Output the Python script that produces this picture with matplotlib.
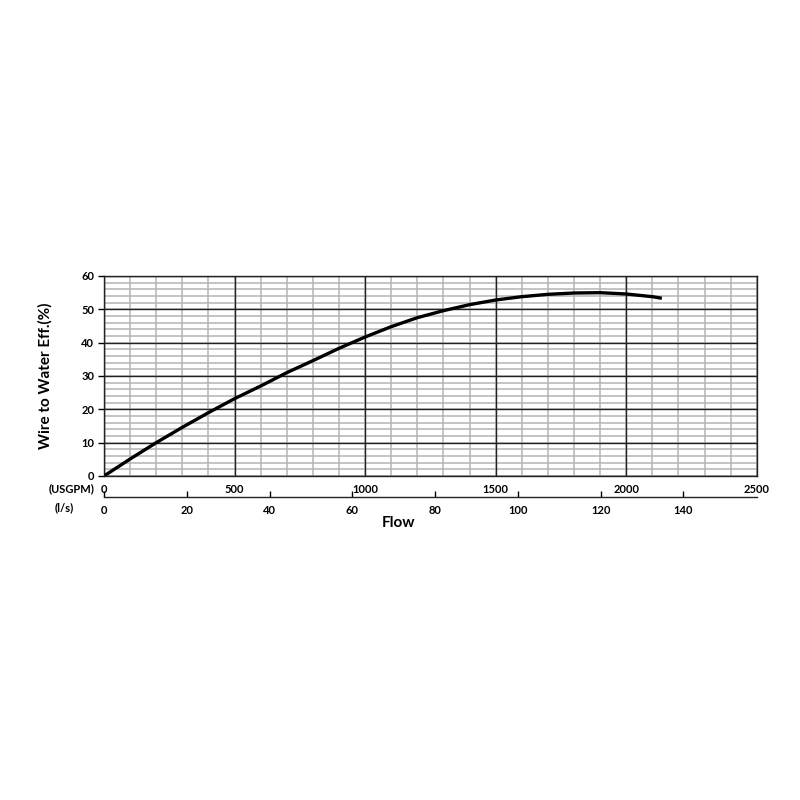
import matplotlib
matplotlib.use("Agg")
import matplotlib.pyplot as plt
from matplotlib.ticker import MultipleLocator, NullLocator

plt.rcParams["font.family"] = ["Lato", "DejaVu Sans"]
plt.rcParams["font.weight"] = "bold"

# flow (USGPM) vs wire-to-water efficiency (%)
flow_usgpm = [0, 100, 200, 300, 400, 500, 600, 700, 800, 900, 1000,
              1100, 1200, 1300, 1400, 1500, 1600, 1700, 1800, 1900,
              2000, 2100, 2130]
eff_pct = [0.0, 5.1, 10.0, 14.6, 19.0, 23.2, 27.0, 31.0, 34.6, 38.3, 41.7,
           44.8, 47.5, 49.6, 51.4, 52.8, 53.8, 54.5, 54.9, 55.0,
           54.6, 53.8, 53.4]

x_ticks = [0, 500, 1000, 1500, 2000, 2500]
y_ticks = [0, 10, 20, 30, 40, 50, 60]
ls_ticks = [0, 20, 40, 60, 80, 100, 120, 140]
GPM_TO_LS = 0.0630902
XMAX, YMAX = 2500, 60

POS = [0.13, 0.405, 0.816, 0.25]
fig = plt.figure(figsize=(8, 8), dpi=100)

# background axes: light minor grid only
ax_bg = fig.add_axes(POS)
ax_bg.set_xlim(0, XMAX)
ax_bg.set_ylim(0, YMAX)
ax_bg.xaxis.set_major_locator(MultipleLocator(100))
ax_bg.yaxis.set_major_locator(MultipleLocator(2))
ax_bg.grid(True, color="#b4b4b4", linewidth=1.1)
ax_bg.tick_params(length=0, labelbottom=False, labelleft=False)
for sp in ax_bg.spines.values():
    sp.set_visible(False)

# main axes on top: dark major grid, ticks and the curve
ax = fig.add_axes(POS)
ax.patch.set_visible(False)
ax.set_xlim(0, XMAX)
ax.set_ylim(0, YMAX)
ax.set_xticks(x_ticks)
ax.set_yticks(y_ticks)
ax.xaxis.set_minor_locator(NullLocator())
ax.yaxis.set_minor_locator(NullLocator())
ax.grid(True, which="major", color="#222222", linewidth=1.0)
for sp in ax.spines.values():
    sp.set_color("#222222")
    sp.set_linewidth(1.0)

ax.tick_params(axis="x", direction="in", length=0, labelsize=8, pad=6)
ax.tick_params(axis="y", direction="out", length=4, width=1,
               labelsize=8, pad=3)

ax.plot(flow_usgpm, eff_pct, color="black", linewidth=2.4, zorder=3)

ax.set_ylabel("Wire to Water Eff.(%)", fontsize=11, fontweight="bold", labelpad=21)

# second flow scale in l/s, a short axes just under the plot
ax_ls = fig.add_axes([POS[0], 0.37875, POS[2], 0.01])
ax_ls.patch.set_visible(False)
ax_ls.set_xlim(0, XMAX * GPM_TO_LS)
ax_ls.set_ylim(0, 1)
ax_ls.set_xticks(ls_ticks)
ax_ls.set_yticks([])
ax_ls.xaxis.set_minor_locator(NullLocator())
for name in ("top", "left", "right"):
    ax_ls.spines[name].set_visible(False)
ax_ls.spines["bottom"].set_visible(True)
ax_ls.spines["bottom"].set_color("#222222")
ax_ls.spines["bottom"].set_linewidth(1.0)
ax_ls.tick_params(axis="x", direction="in", length=4, width=1,
                  labelsize=8, pad=6)

fig.text(0.089, 0.389, "(USGPM)", fontsize=8, fontweight="bold",
         ha="center", va="center")
fig.text(0.080, 0.365, "(l/s)", fontsize=8, fontweight="bold",
         ha="center", va="center")
fig.text(0.498, 0.346, "Flow", fontsize=11, fontweight="bold",
         ha="center", va="center")

fig.savefig("out.png", dpi=100)
